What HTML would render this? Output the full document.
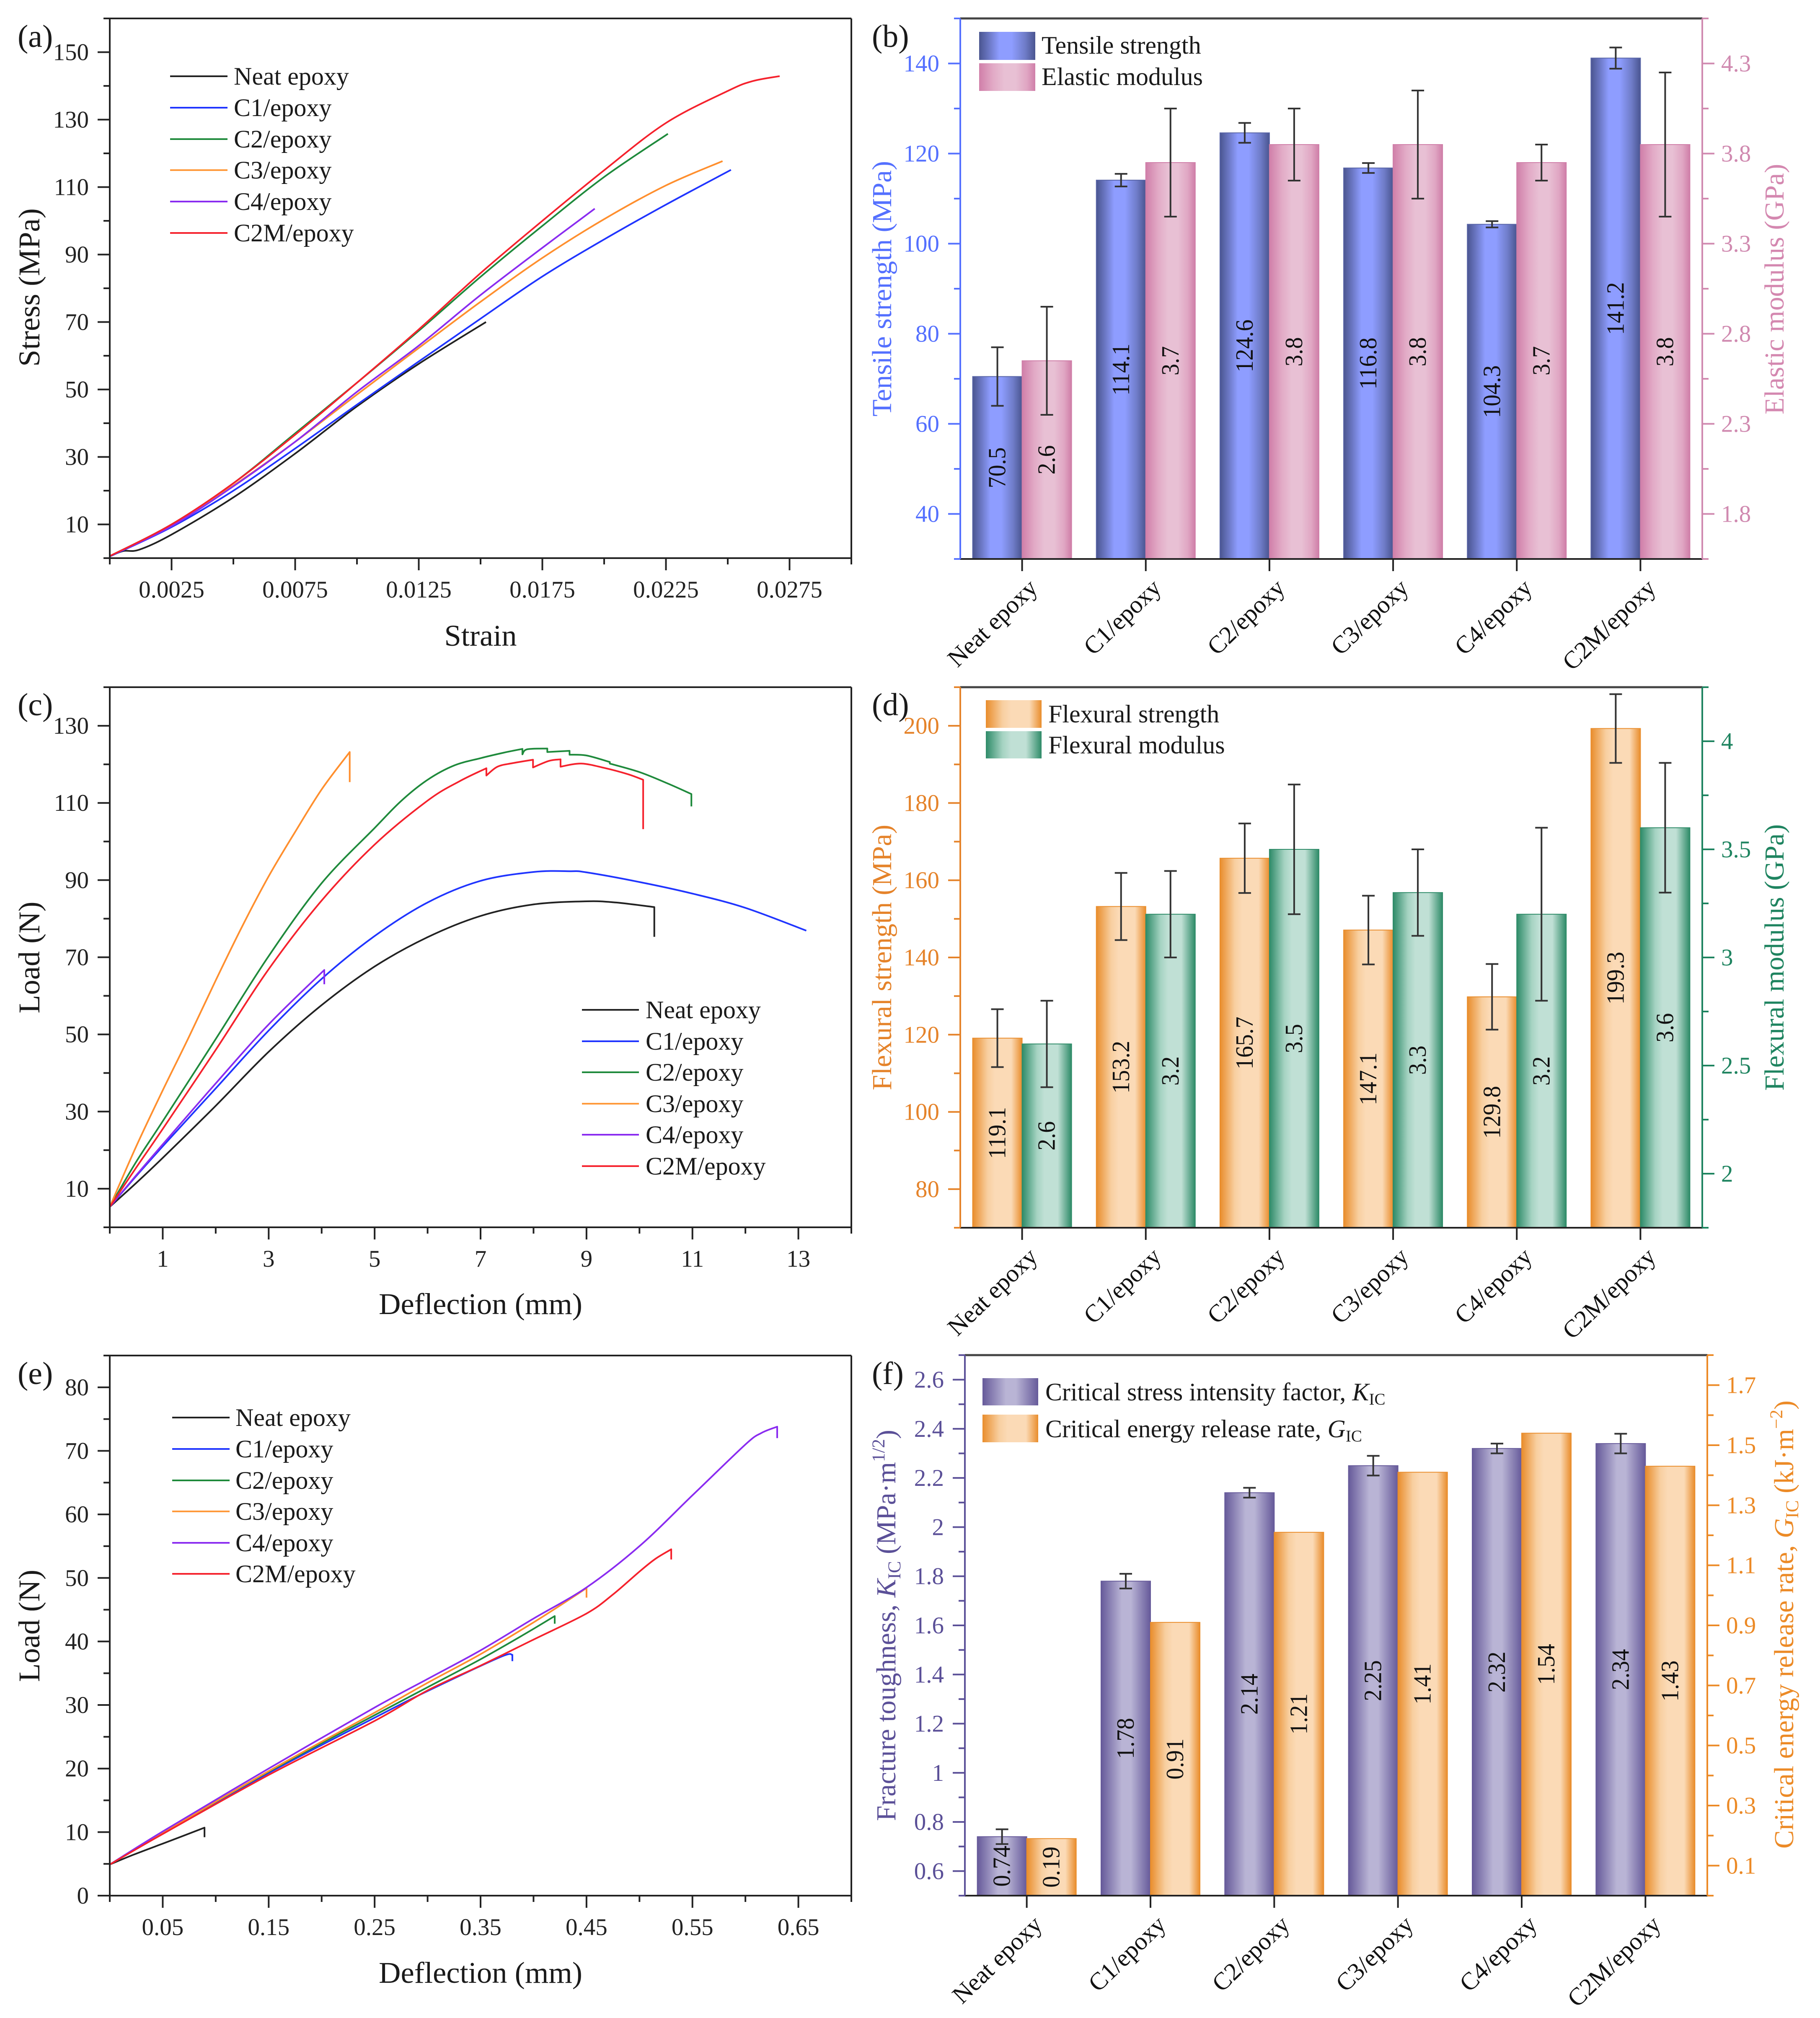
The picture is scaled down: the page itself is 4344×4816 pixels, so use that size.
<!DOCTYPE html>
<html lang="en">
<head>
<meta charset="utf-8">
<title>Mechanical properties of epoxy composites</title>
<style>
html,body{margin:0;padding:0;background:#fff;}
svg{display:block;font-family:"Liberation Serif","Times New Roman",serif;fill:#1a1a1a;}
.title{font-size:72px;}
.title2{font-size:66px;}
.leg{font-size:60px;}
.plabel{font-size:76px;}
</style>
</head>
<body>
<svg id="figure" xmlns="http://www.w3.org/2000/svg" width="4344" height="4816" viewBox="0 0 4344 4816">
<defs>
<linearGradient id="gBlue" x1="0" x2="1" y1="0" y2="0"><stop offset="0" stop-color="#4a5590"/><stop offset=".17" stop-color="#6a76c2"/><stop offset=".36" stop-color="#8e9dff"/><stop offset=".58" stop-color="#8e9dff"/><stop offset=".82" stop-color="#6f7cc8"/><stop offset="1" stop-color="#4a5590"/></linearGradient>
<linearGradient id="gPink" x1="0" x2="1" y1="0" y2="0"><stop offset="0" stop-color="#d07fa9"/><stop offset=".25" stop-color="#e2aac6"/><stop offset=".45" stop-color="#e8c0d4"/><stop offset=".65" stop-color="#e8c0d4"/><stop offset=".85" stop-color="#e0a6c3"/><stop offset="1" stop-color="#cf7ea8"/></linearGradient>
<linearGradient id="gOrange" x1="0" x2="1" y1="0" y2="0"><stop offset="0" stop-color="#e98d2c"/><stop offset=".3" stop-color="#f8cfa0"/><stop offset=".45" stop-color="#fbdab6"/><stop offset=".78" stop-color="#fbdab6"/><stop offset="1" stop-color="#e98d2c"/></linearGradient>
<linearGradient id="gGreen" x1="0" x2="1" y1="0" y2="0"><stop offset="0" stop-color="#2e8b68"/><stop offset=".3" stop-color="#a5d3c2"/><stop offset=".45" stop-color="#c0e0d5"/><stop offset=".72" stop-color="#c0e0d5"/><stop offset="1" stop-color="#2e8b68"/></linearGradient>
<linearGradient id="gPurple" x1="0" x2="1" y1="0" y2="0"><stop offset="0" stop-color="#665a9a"/><stop offset=".42" stop-color="#b9b4d5"/><stop offset=".6" stop-color="#b9b4d5"/><stop offset="1" stop-color="#665a9a"/></linearGradient>
</defs>

<g id="layerMarks"></g>
<g id="layerAxes"></g>

<!-- panel labels -->
<text class="plabel" x="42" y="112">(a)</text>
<text class="plabel" x="2081" y="112">(b)</text>
<text class="plabel" x="42" y="1707">(c)</text>
<text class="plabel" x="2081" y="1707">(d)</text>
<text class="plabel" x="42" y="3303">(e)</text>
<text class="plabel" x="2081" y="3303">(f)</text>

<!-- axis titles -->
<text class="title" transform="translate(94 686) rotate(-90)" text-anchor="middle" textLength="378" lengthAdjust="spacingAndGlyphs">Stress (MPa)</text>
<text class="title" x="1147" y="1541" text-anchor="middle" textLength="173" lengthAdjust="spacingAndGlyphs">Strain</text>
<text class="title" transform="translate(94 2285) rotate(-90)" text-anchor="middle" textLength="267" lengthAdjust="spacingAndGlyphs">Load (N)</text>
<text class="title" x="1147" y="3136" text-anchor="middle" textLength="486" lengthAdjust="spacingAndGlyphs">Deflection (mm)</text>
<text class="title" transform="translate(94 3880) rotate(-90)" text-anchor="middle" textLength="268" lengthAdjust="spacingAndGlyphs">Load (N)</text>
<text class="title" x="1147" y="4732" text-anchor="middle" textLength="486" lengthAdjust="spacingAndGlyphs">Deflection (mm)</text>

<text class="title2" style="fill:#5470ff" transform="translate(2127 689) rotate(-90)" text-anchor="middle" textLength="610" lengthAdjust="spacingAndGlyphs">Tensile strength (MPa)</text>
<text class="title2" style="fill:#d488b0" transform="translate(4257 690) rotate(-90)" text-anchor="middle" textLength="598" lengthAdjust="spacingAndGlyphs">Elastic modulus (GPa)</text>
<text class="title2" style="fill:#e5832a" transform="translate(2127 2285) rotate(-90)" text-anchor="middle" textLength="634" lengthAdjust="spacingAndGlyphs">Flexural strength (MPa)</text>
<text class="title2" style="fill:#1f8460" transform="translate(4257 2285) rotate(-90)" text-anchor="middle" textLength="636" lengthAdjust="spacingAndGlyphs">Flexural modulus (GPa)</text>
<text class="title2" style="fill:#5b5098" transform="translate(2137 3879) rotate(-90)" text-anchor="middle">Fracture toughness, <tspan font-style="italic">K</tspan><tspan dy="12" font-size="43">IC</tspan><tspan dy="-12"> (MPa·m</tspan><tspan dy="-26" font-size="43">1/2</tspan><tspan dy="26">)</tspan></text>
<text class="title2" style="fill:#ec8a26" transform="translate(4280 3877) rotate(-90)" text-anchor="middle">Critical energy release rate, <tspan font-style="italic">G</tspan><tspan dy="12" font-size="43">IC</tspan><tspan dy="-12"> (kJ·m</tspan><tspan dy="-26" font-size="43">−2</tspan><tspan dy="26">)</tspan></text>

<!-- legend a -->
<g stroke-width="4">
<line x1="406" x2="543" y1="182" y2="182" stroke="#222"/><text class="leg" stroke="none" x="558" y="202">Neat epoxy</text>
<line x1="406" x2="543" y1="257" y2="257" stroke="#2035ff"/><text class="leg" stroke="none" x="558" y="277">C1/epoxy</text>
<line x1="406" x2="543" y1="332" y2="332" stroke="#1f8a3c"/><text class="leg" stroke="none" x="558" y="352">C2/epoxy</text>
<line x1="406" x2="543" y1="406" y2="406" stroke="#ff9a3c"/><text class="leg" stroke="none" x="558" y="426">C3/epoxy</text>
<line x1="406" x2="543" y1="481" y2="481" stroke="#8a2cf0"/><text class="leg" stroke="none" x="558" y="501">C4/epoxy</text>
<line x1="406" x2="543" y1="556" y2="556" stroke="#f5222d"/><text class="leg" stroke="none" x="558" y="576">C2M/epoxy</text>
</g>
<!-- legend c -->
<g stroke-width="4">
<line x1="1389" x2="1525" y1="2410" y2="2410" stroke="#222"/><text class="leg" stroke="none" x="1541" y="2430">Neat epoxy</text>
<line x1="1389" x2="1525" y1="2485" y2="2485" stroke="#2035ff"/><text class="leg" stroke="none" x="1541" y="2505">C1/epoxy</text>
<line x1="1389" x2="1525" y1="2559" y2="2559" stroke="#1f8a3c"/><text class="leg" stroke="none" x="1541" y="2579">C2/epoxy</text>
<line x1="1389" x2="1525" y1="2634" y2="2634" stroke="#ff9a3c"/><text class="leg" stroke="none" x="1541" y="2654">C3/epoxy</text>
<line x1="1389" x2="1525" y1="2708" y2="2708" stroke="#8a2cf0"/><text class="leg" stroke="none" x="1541" y="2728">C4/epoxy</text>
<line x1="1389" x2="1525" y1="2783" y2="2783" stroke="#f5222d"/><text class="leg" stroke="none" x="1541" y="2803">C2M/epoxy</text>
</g>
<!-- legend e -->
<g stroke-width="4">
<line x1="411" x2="548" y1="3383" y2="3383" stroke="#222"/><text class="leg" stroke="none" x="562" y="3403">Neat epoxy</text>
<line x1="411" x2="548" y1="3458" y2="3458" stroke="#2035ff"/><text class="leg" stroke="none" x="562" y="3478">C1/epoxy</text>
<line x1="411" x2="548" y1="3533" y2="3533" stroke="#1f8a3c"/><text class="leg" stroke="none" x="562" y="3553">C2/epoxy</text>
<line x1="411" x2="548" y1="3607" y2="3607" stroke="#ff9a3c"/><text class="leg" stroke="none" x="562" y="3627">C3/epoxy</text>
<line x1="411" x2="548" y1="3682" y2="3682" stroke="#8a2cf0"/><text class="leg" stroke="none" x="562" y="3702">C4/epoxy</text>
<line x1="411" x2="548" y1="3756" y2="3756" stroke="#f5222d"/><text class="leg" stroke="none" x="562" y="3776">C2M/epoxy</text>
</g>
<!-- legend b -->
<g>
<rect x="2337" y="76" width="134" height="67" fill="url(#gBlue)"/><text class="leg" x="2486" y="128">Tensile strength</text>
<rect x="2337" y="151" width="134" height="66" fill="url(#gPink)"/><text class="leg" x="2486" y="203">Elastic modulus</text>
</g>
<!-- legend d -->
<g>
<rect x="2353" y="1671" width="133" height="66" fill="url(#gOrange)"/><text class="leg" x="2502" y="1724">Flexural strength</text>
<rect x="2353" y="1745" width="133" height="65" fill="url(#gGreen)"/><text class="leg" x="2502" y="1798">Flexural modulus</text>
</g>
<!-- legend f -->
<g>
<rect x="2345" y="3289" width="133" height="65" fill="url(#gPurple)"/><text class="leg" x="2495" y="3342">Critical stress intensity factor, <tspan font-style="italic">K</tspan><tspan dy="10" font-size="39">IC</tspan></text>
<rect x="2345" y="3376" width="133" height="66" fill="url(#gOrange)"/><text class="leg" x="2495" y="3430">Critical energy release rate, <tspan font-style="italic">G</tspan><tspan dy="10" font-size="39">IC</tspan></text>
</g>
</svg>

<script>
// ---------- shared categories ----------
const categories = ['Neat epoxy','C1/epoxy','C2/epoxy','C3/epoxy','C4/epoxy','C2M/epoxy'];

// ---------- panel (a) stress-strain ----------
const aXTickLabels = ['0.0025','0.0075','0.0125','0.0175','0.0225','0.0275'];
const aXMinorTicks = [0,0.005,0.01,0.015,0.02,0.025,0.03];
const aYTickLabels = ['10','30','50','70','90','110','130','150'];
const aYMinorTicks = [0,20,40,60,80,100,120,140,160];
const aNeatX = [0,0.00054,0.00119,0.0025,0.005,0.0075,0.01,0.0125,0.01522];
const aNeatY = [0.5,2.1,2.5,7,18,31,45,57.6,70];
const aC1X = [0,0.0025,0.005,0.0075,0.01,0.0125,0.015,0.0175,0.02,0.0225,0.02513];
const aC1Y = [0.5,9.2,20,32.5,45.5,58.3,71,83.5,94.5,104.8,115.1];
const aC2X = [0,0.0025,0.005,0.0075,0.01,0.0125,0.015,0.0175,0.02,0.02258];
const aC2Y = [0.6,10,22.2,37,52,67.4,83.4,98.5,113,125.8];
const aC3X = [0,0.0025,0.005,0.0075,0.01,0.0125,0.015,0.0175,0.02,0.0225,0.02479];
const aC3Y = [0.6,9.8,21.5,34.5,48.5,62.3,76,89,100.5,110.5,117.7];
const aC4X = [0,0.0025,0.005,0.0075,0.01,0.0125,0.015,0.0175,0.01962];
const aC4Y = [0.6,9.5,21.3,34.5,49.3,63,78,92,103.6];
const aC2MX = [0,0.0025,0.005,0.0075,0.01,0.0125,0.015,0.0175,0.02,0.0225,0.025,0.026,0.0271];
const aC2MY = [0.6,10,22.2,36.6,52,67.8,84.5,100,115,129,138.5,141.4,142.9];

// ---------- panel (c) flexural load-deflection ----------
const cXTickLabels = ['1','3','5','7','9','11','13'];
const cXMinorTicks = [0,2,4,6,8,10,12,14];
const cYTickLabels = ['10','30','50','70','90','110','130'];
const cYMinorTicks = [0,20,40,60,80,100,120,140];
const cNeatX = [0,0.5,1,2,3,4,5,6,7,8,9,9.55,10.28,10.28];
const cNeatY = [5.3,11.5,18,31.5,45.5,57.6,67.6,75.2,80.7,83.7,84.5,84.2,83,75.3];
const cC1X = [0,0.5,1,2,3,4,5,6,7,8,8.7,9,10,11,12,13.15];
const cC1Y = [5.3,13.3,21,36,51,64.4,75.5,84.2,89.8,92.1,92.3,92,89.5,86.5,82.8,76.9];
const cC2X = [0,0.5,1,2,3,4,5,5.5,6,6.5,7,7.43,7.79,7.79,7.88,8.26,8.26,8.68,8.68,9,9.44,9.44,10,10.54,10.98,10.98];
const cC2Y = [5.3,17,27.5,48.8,70.3,89.2,103.5,110.5,116,119.7,121.6,123,124,122.6,123.9,124.1,123.2,123.5,122.5,122.3,120.6,120.2,118,115,112.3,109.1];
const cC3X = [0,0.5,1,1.5,2,2.5,3,3.5,4,4.53,4.53];
const cC3Y = [5.3,21,35.5,49.5,64,78,91,102.5,113.5,123.2,115.4];
const cC4X = [0,0.5,1,2,3,4.05,4.05];
const cC4Y = [5.3,13.5,21.5,37.3,52.6,66.7,63];
const cC2MX = [0,0.5,1,2,3,4,5,6,6.6,7.11,7.11,7.32,7.6,7.99,7.99,8.29,8.51,8.51,8.9,9.33,9.77,10.07,10.07];
const cC2MY = [5.3,15.5,25.5,46,66.9,84.7,99.2,110.6,115.6,119,117.1,119.4,120.3,121.2,119.2,120.9,121.3,119.4,120.2,119.1,117.5,116,103.2];

// ---------- panel (e) fracture load-deflection ----------
const eXTickLabels = ['0.05','0.15','0.25','0.35','0.45','0.55','0.65'];
const eXMinorTicks = [0,0.1,0.2,0.3,0.4,0.5,0.6,0.7];
const eYTickLabels = ['0','10','20','30','40','50','60','70','80'];
const eYMinorTicks = [5,15,25,35,45,55,65,75,85];
const eNeatX = [0,0.0225,0.055,0.0894,0.0894];
const eNeatY = [4.9,6.45,8.5,10.7,9.2];
const eC1X = [0,0.05,0.15,0.25,0.3,0.368,0.38,0.38];
const eC1Y = [4.9,9.8,19.3,28,32.2,37.5,37.9,36.9];
const eC2X = [0,0.05,0.15,0.25,0.3,0.35,0.39,0.42,0.42];
const eC2Y = [4.9,9.9,19.5,28.4,32.8,37.2,41,44,42.8];
const eC3X = [0,0.05,0.15,0.25,0.3,0.35,0.4,0.43,0.45,0.45];
const eC3Y = [4.9,9.9,19.6,28.8,33.5,38,43,46.2,48.4,46.9];
const eC4X = [0,0.05,0.15,0.25,0.3,0.35,0.4,0.45,0.5,0.55,0.6,0.615,0.63,0.63];
const eC4Y = [4.9,10.1,20,29.6,34.1,38.6,43.6,48.5,55,63,71,72.8,73.8,72];
const eC2MX = [0,0.05,0.15,0.25,0.3,0.35,0.4,0.45,0.475,0.5,0.515,0.53,0.53];
const eC2MY = [4.9,9.7,19,27.5,32.3,36.2,40.3,44.4,47.4,51,53,54.5,52.9];

// ---------- panel (b) tensile bars ----------
const bLeftTickLabels = ['40','60','80','100','120','140'];
const bLeftMinorTicks = [30,50,70,90,110,130,150];
const bRightTickLabels = ['1.8','2.3','2.8','3.3','3.8','4.3'];
const bRightMinorTicks = [1.55,2.05,2.55,3.05,3.55,4.05,4.55];
const tensileValues = [70.5,114.1,124.6,116.8,104.3,141.2];
const tensileErrors = [6.5,1.4,2.2,1.1,0.7,2.35];
const tensileLabels = ['70.5','114.1','124.6','116.8','104.3','141.2'];
const elasticValues = [2.65,3.75,3.85,3.85,3.75,3.85];
const elasticErrors = [0.3,0.3,0.2,0.3,0.1,0.4];
const elasticLabels = ['2.6','3.7','3.8','3.8','3.7','3.8'];

// ---------- panel (d) flexural bars ----------
const dLeftTickLabels = ['80','100','120','140','160','180','200'];
const dLeftMinorTicks = [70,90,110,130,150,170,190,210];
const dRightTickLabels = ['2','2.5','3','3.5','4'];
const dRightMinorTicks = [1.75,2.25,2.75,3.25,3.75,4.25];
const flexStrengthValues = [119.1,153.2,165.7,147.1,129.8,199.3];
const flexStrengthErrors = [7.5,8.7,9,8.9,8.5,8.9];
const flexStrengthLabels = ['119.1','153.2','165.7','147.1','129.8','199.3'];
const flexModulusValues = [2.6,3.2,3.5,3.3,3.2,3.6];
const flexModulusErrors = [0.2,0.2,0.3,0.2,0.4,0.3];
const flexModulusLabels = ['2.6','3.2','3.5','3.3','3.2','3.6'];

// ---------- panel (f) toughness bars ----------
const fLeftTickLabels = ['0.6','0.8','1','1.2','1.4','1.6','1.8','2','2.2','2.4','2.6'];
const fLeftMinorTicks = [0.5,0.7,0.9,1.1,1.3,1.5,1.7,1.9,2.1,2.3,2.5,2.7];
const fRightTickLabels = ['0.1','0.3','0.5','0.7','0.9','1.1','1.3','1.5','1.7'];
const fRightMinorTicks = [0,0.2,0.4,0.6,0.8,1,1.2,1.4,1.6,1.8];
const kicValues = [0.74,1.78,2.14,2.25,2.32,2.34];
const kicErrors = [0.03,0.03,0.02,0.04,0.02,0.04];
const kicLabels = ['0.74','1.78','2.14','2.25','2.32','2.34'];
const gicValues = [0.19,0.91,1.21,1.41,1.54,1.43];
const gicLabels = ['0.19','0.91','1.21','1.41','1.54','1.43'];

// ---------- drawing helpers ----------
const SVGNS = 'http://www.w3.org/2000/svg';
const marks = document.getElementById('layerMarks');
const axes = document.getElementById('layerAxes');
const INK = '#222';

function mk(tag, attrs, parent) {
  const el = document.createElementNS(SVGNS, tag);
  for (const k in attrs) el.setAttribute(k, attrs[k]);
  parent.appendChild(el);
  return el;
}
function scale(d0, d1, r0, r1) {
  return function (v) { return r0 + (v - d0) / (d1 - d0) * (r1 - r0); };
}
function axisLine(x1, y1, x2, y2, color, w) {
  const el = mk('line', {x1:x1, y1:y1, x2:x2, y2:y2, stroke:color, 'stroke-width':w}, axes);
  
  
}
function tick(x1, y1, x2, y2, color) {
  const el = mk('line', {x1:x1, y1:y1, x2:x2, y2:y2, stroke:color, 'stroke-width':4}, axes);
  
  
}
function tickLabel(str, x, y, anchor, color) {
  const el = mk('text', {x:x, y:y, 'text-anchor':anchor, 'font-size':57, style:'fill:'+color}, axes);
  el.textContent = str;
  
  
}
function yAxis(sy, axisX, labels, minor, color, dir) {
  labels.forEach(function (s) {
    const y = sy(parseFloat(s));
    tick(axisX, y, axisX + dir * 29, y, color);
    tickLabel(s, axisX + dir * (dir < 0 ? 50 : 45), y + 19, dir < 0 ? 'end' : 'start', color);
  });
  minor.forEach(function (v) {
    const y = sy(v);
    tick(axisX, y, axisX + dir * 15, y, color);
  });
}
function xAxis(sx, axisY, labels, minor) {
  labels.forEach(function (s) {
    const x = sx(parseFloat(s));
    tick(x, axisY, x, axisY + 29, INK);
    tickLabel(s, x, axisY + 94, 'middle', INK);
  });
  minor.forEach(function (v) {
    const x = sx(v);
    tick(x, axisY, x, axisY + 15, INK);
  });
}
function curvePath(xs, ys, sx, sy) {
  const P = xs.map(function (x, i) { return [sx(x), sy(ys[i])]; });
  let d = 'M' + P[0][0].toFixed(1) + ' ' + P[0][1].toFixed(1);
  for (let i = 0; i < P.length - 1; i++) {
    const p1 = P[i], p2 = P[i + 1];
    if (xs[i] === xs[i + 1]) { d += ' L' + p2[0].toFixed(1) + ' ' + p2[1].toFixed(1); continue; }
    const p0 = (i > 0 && xs[i - 1] !== xs[i]) ? P[i - 1] : p1;
    const p3 = (i + 2 < P.length && xs[i + 2] !== xs[i + 1]) ? P[i + 2] : p2;
    const c1x = p1[0] + (p2[0] - p0[0]) / 6, c1y = p1[1] + (p2[1] - p0[1]) / 6;
    const c2x = p2[0] - (p3[0] - p1[0]) / 6, c2y = p2[1] - (p3[1] - p1[1]) / 6;
    d += ' C' + c1x.toFixed(1) + ' ' + c1y.toFixed(1) + ' ' + c2x.toFixed(1) + ' ' + c2y.toFixed(1) + ' ' + p2[0].toFixed(1) + ' ' + p2[1].toFixed(1);
  }
  return d;
}
function series(xs, ys, sx, sy, color) {
  const el = mk('path', {d:curvePath(xs, ys, sx, sy), fill:'none', stroke:color, 'stroke-width':4, 'stroke-linejoin':'round'}, marks);
  
  
}
function linePanel(box, xd, yd, xLabels, xMinor, yLabels, yMinor, data) {
  const sx = scale(xd[0], xd[1], box.l, box.r);
  const sy = scale(yd[0], yd[1], box.b, box.t);
  data.forEach(function (s) { series(s[0], s[1], sx, sy, s[2]); });
  axisLine(box.l, box.t, box.r, box.t, INK, 4);
  axisLine(box.r, box.t, box.r, box.b, INK, 4);
  axisLine(box.l, box.t, box.l, box.b, INK, 4);
  axisLine(box.l, box.b, box.r, box.b, INK, 4);
  yAxis(sy, box.l, yLabels, yMinor, INK, -1);
  xAxis(sx, box.b, xLabels, xMinor);
}
function bar(x, w, y0, y1, fill, edge) {
  const el = mk('rect', {x:x, y:y1, width:w, height:y0 - y1, fill:fill, stroke:edge, 'stroke-width':2}, marks);
  
  
}
function errorBar(cx, yHi, yLo) {
  const s = mk('line', {x1:cx, x2:cx, y1:yHi, y2:yLo, stroke:'#333', 'stroke-width':4}, axes);
  
  
  [yHi, yLo].forEach(function (y) {
    const c = mk('line', {x1:cx - 15, x2:cx + 15, y1:y, y2:y, stroke:'#333', 'stroke-width':4}, axes);
    
    
  });
}
function valueLabel(str, cx, cy) {
  const el = mk('text', {transform:'translate(' + (cx + 19) + ' ' + cy + ') rotate(-90) scale(1 1.05)', 'text-anchor':'middle', 'font-size':56, style:'fill:#111'}, axes);
  el.textContent = str;
  
  
}
function barPanel(box, cfg) {
  const bw = 118;
  const cat = scale(-0.5, 5.5, box.l, box.r);
  const sl = scale(cfg.ld[0], cfg.ld[1], box.b, box.t);
  const sr = scale(cfg.rd[0], cfg.rd[1], box.b, box.t);
  categories.forEach(function (name, i) {
    const cx = cat(i);
    const yL = sl(cfg.lv[i]), yR = sr(cfg.rv[i]);
    bar(cx - bw, bw, box.b, yL, cfg.lFill, cfg.lEdge);
    bar(cx, bw, box.b, yR, cfg.rFill, cfg.rEdge);
    if (cfg.le) errorBar(cx - bw / 2, sl(cfg.lv[i] + cfg.le[i]), sl(cfg.lv[i] - cfg.le[i]));
    if (cfg.re) errorBar(cx + bw / 2, sr(cfg.rv[i] + cfg.re[i]), sr(cfg.rv[i] - cfg.re[i]));
    valueLabel(cfg.ll[i], cx - bw / 2, (box.b + yL) / 2);
    valueLabel(cfg.rl[i], cx + bw / 2, (box.b + yR) / 2);
    tick(cx, box.b, cx, box.b + 29, INK);
    const t = mk('text', {transform:'translate(' + (cx + 40) + ' ' + (box.b + 73) + ') rotate(-44)', 'text-anchor':'end', 'font-size':59, style:'fill:#111'}, axes);
    t.textContent = name;
    
    
  });
  axisLine(box.l, box.t, box.r, box.t, '#444', 5);
  axisLine(box.l, box.b, box.r, box.b, INK, 4);
  axisLine(box.l, box.t, box.l, box.b, cfg.lColor, 4);
  axisLine(box.r, box.t, box.r, box.b, cfg.rColor, 4);
  yAxis(sl, box.l, cfg.lt, cfg.lm, cfg.lColor, -1);
  yAxis(sr, box.r, cfg.rt, cfg.rm, cfg.rColor, 1);
}

// ---------- build panels ----------
const colNeat = '#222', colC1 = '#2035ff', colC2 = '#1f8a3c', colC3 = '#ff8f2e', colC4 = '#8a2cf0', colC2M = '#f5222d';

linePanel({l:262, r:2032, t:44, b:1332}, [0,0.03], [0,160], aXTickLabels, aXMinorTicks, aYTickLabels, aYMinorTicks, [
  [aNeatX,aNeatY,colNeat],[aC1X,aC1Y,colC1],[aC2X,aC2Y,colC2],[aC3X,aC3Y,colC3],[aC4X,aC4Y,colC4],[aC2MX,aC2MY,colC2M]
]);
linePanel({l:262, r:2032, t:1640, b:2929}, [0,14], [0,140], cXTickLabels, cXMinorTicks, cYTickLabels, cYMinorTicks, [
  [cNeatX,cNeatY,colNeat],[cC1X,cC1Y,colC1],[cC2X,cC2Y,colC2],[cC3X,cC3Y,colC3],[cC4X,cC4Y,colC4],[cC2MX,cC2MY,colC2M]
]);
linePanel({l:262, r:2032, t:3235, b:4524}, [0,0.7], [0,85], eXTickLabels, eXMinorTicks, eYTickLabels, eYMinorTicks, [
  [eNeatX,eNeatY,colNeat],[eC1X,eC1Y,colC1],[eC2X,eC2Y,colC2],[eC3X,eC3Y,colC3],[eC4X,eC4Y,colC4],[eC2MX,eC2MY,colC2M]
]);

barPanel({l:2292, r:4063, t:44, b:1334}, {
  ld:[30,150], rd:[1.55,4.55], lv:tensileValues, rv:elasticValues, le:tensileErrors, re:elasticErrors,
  ll:tensileLabels, rl:elasticLabels, lFill:'url(#gBlue)', rFill:'url(#gPink)', lEdge:'#5a66a8', rEdge:'#cf7ea8',
  lColor:'#5470ff', rColor:'#d08ab0', lt:bLeftTickLabels, lm:bLeftMinorTicks, rt:bRightTickLabels, rm:bRightMinorTicks
});
barPanel({l:2292, r:4063, t:1640, b:2930}, {
  ld:[70,210], rd:[1.75,4.25], lv:flexStrengthValues, rv:flexModulusValues, le:flexStrengthErrors, re:flexModulusErrors,
  ll:flexStrengthLabels, rl:flexModulusLabels, lFill:'url(#gOrange)', rFill:'url(#gGreen)', lEdge:'#e98d2c', rEdge:'#2e8b68',
  lColor:'#e5832a', rColor:'#1f8460', lt:dLeftTickLabels, lm:dLeftMinorTicks, rt:dRightTickLabels, rm:dRightMinorTicks
});
barPanel({l:2303, r:4075, t:3234, b:4524}, {
  ld:[0.5,2.7], rd:[0,1.8], lv:kicValues, rv:gicValues, le:kicErrors, re:null,
  ll:kicLabels, rl:gicLabels, lFill:'url(#gPurple)', rFill:'url(#gOrange)', lEdge:'#665a9a', rEdge:'#e98d2c',
  lColor:'#5b5098', rColor:'#ec8a26', lt:fLeftTickLabels, lm:fLeftMinorTicks, rt:fRightTickLabels, rm:fRightMinorTicks
});
</script>
</body>
</html>
